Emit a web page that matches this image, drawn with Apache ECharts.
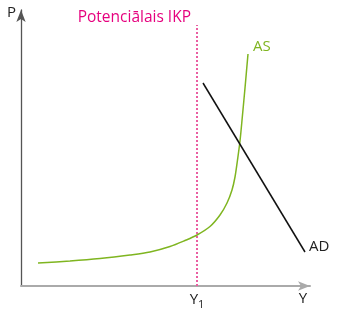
<!DOCTYPE html>
<html><head><meta charset="utf-8">
<script src="https://cdn.jsdelivr.net/npm/echarts@6/dist/echarts.min.js"></script>
<style>html,body{margin:0;padding:0;background:#fff}#c{width:338px;height:314px}</style>
</head><body><div id="c"></div>
<script>
// Data (arbitrary units, conceptual diagram)
const asX = [17, 49, 79, 109, 129, 149, 164, 176, 189, 199, 206, 211, 214, 216.5, 219, 221.5, 224, 227];
const asY = [23, 25, 27.5, 31, 34, 39.5, 45.5, 51, 59.5, 71, 83, 96, 109, 126, 145, 171, 198, 232];
const adX = [182, 284];
const adY = [203, 34];
const potentialX = [176, 176];
const potentialY = [0, 261];
const xTickValues = [176, 282];
const xTickLabels = ['{a|Y}{b|1}', 'Y'];
const labels = { as: 'AS', ad: 'AD', potential: 'Potenciālais IKP', yName: 'P' };

const font = '"Open Sans", sans-serif';
const chart = echarts.init(document.getElementById('c'));
const zip = (xs, ys) => xs.map((x, i) => [x, ys[i]]);

chart.setOption({
  animation: false,
  textStyle: { fontFamily: font },
  grid: { left: 21, top: 10, right: 28, bottom: 28, containLabel: false },
  xAxis: {
    type: 'value', min: 0, max: 289,
    axisLine: { show: true, symbol: ['none', 'arrow'], symbolSize: [7, 12], lineStyle: { color: '#aaaaaa', width: 2 } },
    axisTick: { show: false },
    splitLine: { show: false },
    axisLabel: {
      customValues: xTickValues,
      margin: 5,
      formatter: v => xTickLabels[xTickValues.indexOf(v)],
      color: '#222', fontSize: 15, fontFamily: font,
      rich: {
        a: { fontSize: 15, fontFamily: font, color: '#222', lineHeight: 18 },
        b: { fontSize: 11, fontFamily: font, color: '#222', lineHeight: 18, padding: [9, 0, 0, 0] }
      }
    }
  },
  yAxis: {
    type: 'value', min: 0, max: 276,
    name: labels.yName, nameLocation: 'end', nameGap: -3,
    nameTextStyle: { align: 'right', verticalAlign: 'middle', padding: [0, 5, 0, 0], color: '#222', fontSize: 15, fontFamily: font },
    axisLine: { show: true, symbol: ['none', 'arrow'], symbolSize: [7, 12], lineStyle: { color: '#555', width: 1.3 } },
    axisTick: { show: false },
    splitLine: { show: false },
    axisLabel: { show: false }
  },
  series: [
    {
      type: 'line', data: zip(potentialX, potentialY), symbol: 'circle', symbolSize: 0, showSymbol: true,
      lineStyle: { color: '#ea5fa2', width: 2, type: [2, 2] },
      label: {
        show: true, position: 'left', distance: 6, offset: [0, -7],
        formatter: p => p.dataIndex === potentialX.length - 1 ? labels.potential : '',
        color: '#e6007e', fontSize: 15.5, fontFamily: font
      }
    },
    {
      type: 'line', data: zip(asX, asY), smooth: 0.3, symbol: 'none',
      lineStyle: { color: '#7fb520', width: 1.5 },
      endLabel: { show: true, formatter: labels.as, color: '#7fb520', fontSize: 15, fontFamily: font, offset: [0, -7], distance: 5 }
    },
    {
      type: 'line', data: zip(adX, adY), symbol: 'none',
      lineStyle: { color: '#111', width: 1.5 },
      endLabel: { show: true, formatter: labels.ad, color: '#222', fontSize: 15, fontFamily: font, offset: [0, -5], distance: 4 }
    }
  ]
});
</script></body></html>
